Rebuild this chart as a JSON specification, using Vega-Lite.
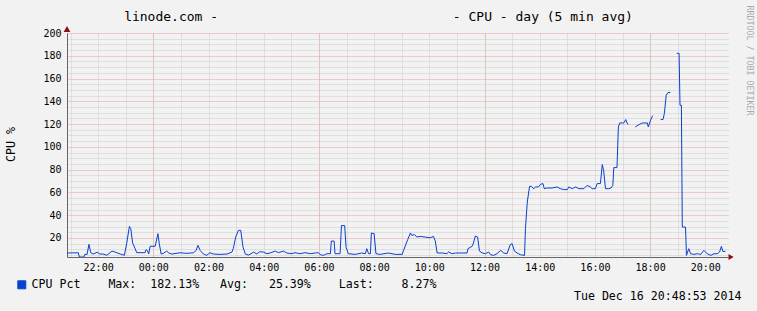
{
  "$schema": "https://vega.github.io/schema/vega-lite/v6.json",
  "width": 661,
  "height": 224,
  "autosize": {"type": "none"},
  "padding": {"left": 67, "top": 33, "right": 29, "bottom": 54},
  "background": "#f2f2f2",
  "config": {"view": {"stroke": null}, "font": "DejaVu Sans Mono"},
  "title": {
    "text": "linode.com -\u00a0\u00a0\u00a0\u00a0\u00a0\u00a0\u00a0\u00a0\u00a0\u00a0\u00a0\u00a0\u00a0\u00a0\u00a0\u00a0\u00a0\u00a0\u00a0\u00a0\u00a0\u00a0\u00a0\u00a0\u00a0\u00a0\u00a0\u00a0\u00a0\u00a0- CPU - day (5 min avg)",
    "font": "DejaVu Sans Mono",
    "fontSize": 13,
    "fontWeight": "normal",
    "color": "#000000",
    "anchor": "middle",
    "frame": "group",
    "dx": -19,
    "dy": 41,
    "baseline": "alphabetic",
    "offset": 12
  },
  "resolve": {"axis": {"x": "independent", "y": "independent"}},
  "layer": [
    {
      "data": {
        "values": [
          {"t": "2014-12-15 20:53", "v": 6.8},
          {"t": "2014-12-15 21:17", "v": 7},
          {"t": "2014-12-15 21:19", "v": 3.3},
          {"t": "2014-12-15 21:29", "v": 3.3},
          {"t": "2014-12-15 21:31", "v": 5.6},
          {"t": "2014-12-15 21:36", "v": 5.6},
          {"t": "2014-12-15 21:40", "v": 14.4},
          {"t": "2014-12-15 21:44", "v": 7},
          {"t": "2014-12-15 21:49", "v": 5.9},
          {"t": "2014-12-15 21:58", "v": 7.5},
          {"t": "2014-12-15 22:04", "v": 5.9},
          {"t": "2014-12-15 22:11", "v": 5.9},
          {"t": "2014-12-15 22:19", "v": 4.8},
          {"t": "2014-12-15 22:30", "v": 8.5},
          {"t": "2014-12-15 22:37", "v": 7.6},
          {"t": "2014-12-15 22:48", "v": 5.9},
          {"t": "2014-12-15 22:57", "v": 4.8},
          {"t": "2014-12-15 23:02", "v": 15},
          {"t": "2014-12-15 23:08", "v": 30.2},
          {"t": "2014-12-15 23:11", "v": 28.2},
          {"t": "2014-12-15 23:15", "v": 15.6},
          {"t": "2014-12-15 23:20", "v": 11},
          {"t": "2014-12-15 23:24", "v": 7.1},
          {"t": "2014-12-15 23:42", "v": 7.1},
          {"t": "2014-12-15 23:44", "v": 9.7},
          {"t": "2014-12-15 23:47", "v": 9},
          {"t": "2014-12-15 23:50", "v": 6},
          {"t": "2014-12-15 23:53", "v": 12.7},
          {"t": "2014-12-16 00:04", "v": 12.7},
          {"t": "2014-12-16 00:10", "v": 23.8},
          {"t": "2014-12-16 00:13", "v": 15},
          {"t": "2014-12-16 00:17", "v": 5.9},
          {"t": "2014-12-16 00:22", "v": 6.5},
          {"t": "2014-12-16 00:29", "v": 8.5},
          {"t": "2014-12-16 00:33", "v": 7},
          {"t": "2014-12-16 00:40", "v": 5.9},
          {"t": "2014-12-16 00:58", "v": 7},
          {"t": "2014-12-16 01:13", "v": 6.5},
          {"t": "2014-12-16 01:27", "v": 7},
          {"t": "2014-12-16 01:33", "v": 9},
          {"t": "2014-12-16 01:37", "v": 13.5},
          {"t": "2014-12-16 01:42", "v": 9},
          {"t": "2014-12-16 01:49", "v": 5.9},
          {"t": "2014-12-16 01:56", "v": 4.8},
          {"t": "2014-12-16 02:03", "v": 7},
          {"t": "2014-12-16 02:11", "v": 5.9},
          {"t": "2014-12-16 02:25", "v": 5.6},
          {"t": "2014-12-16 02:40", "v": 5.9},
          {"t": "2014-12-16 02:51", "v": 7.6},
          {"t": "2014-12-16 02:54", "v": 11},
          {"t": "2014-12-16 02:59", "v": 20.8},
          {"t": "2014-12-16 03:05", "v": 26.7},
          {"t": "2014-12-16 03:10", "v": 26.7},
          {"t": "2014-12-16 03:15", "v": 12},
          {"t": "2014-12-16 03:20", "v": 5.9},
          {"t": "2014-12-16 03:27", "v": 5},
          {"t": "2014-12-16 03:38", "v": 7.6},
          {"t": "2014-12-16 03:45", "v": 5.9},
          {"t": "2014-12-16 03:51", "v": 7.9},
          {"t": "2014-12-16 03:59", "v": 7.7},
          {"t": "2014-12-16 04:07", "v": 6.2},
          {"t": "2014-12-16 04:14", "v": 6.8},
          {"t": "2014-12-16 04:25", "v": 8.5},
          {"t": "2014-12-16 04:32", "v": 7.1},
          {"t": "2014-12-16 04:43", "v": 8.5},
          {"t": "2014-12-16 04:50", "v": 6.8},
          {"t": "2014-12-16 05:01", "v": 6.2},
          {"t": "2014-12-16 05:08", "v": 7.1},
          {"t": "2014-12-16 05:19", "v": 6.2},
          {"t": "2014-12-16 05:30", "v": 7.1},
          {"t": "2014-12-16 05:41", "v": 6.2},
          {"t": "2014-12-16 05:52", "v": 6.8},
          {"t": "2014-12-16 05:59", "v": 7.1},
          {"t": "2014-12-16 06:03", "v": 5.3},
          {"t": "2014-12-16 06:10", "v": 4.7},
          {"t": "2014-12-16 06:17", "v": 6.2},
          {"t": "2014-12-16 06:25", "v": 6.2},
          {"t": "2014-12-16 06:27", "v": 17.3},
          {"t": "2014-12-16 06:33", "v": 17.3},
          {"t": "2014-12-16 06:35", "v": 6.2},
          {"t": "2014-12-16 06:46", "v": 6.2},
          {"t": "2014-12-16 06:49", "v": 30.9},
          {"t": "2014-12-16 06:56", "v": 30.9},
          {"t": "2014-12-16 06:59", "v": 11.9},
          {"t": "2014-12-16 07:04", "v": 6.2},
          {"t": "2014-12-16 07:19", "v": 5.6},
          {"t": "2014-12-16 07:33", "v": 6.8},
          {"t": "2014-12-16 07:41", "v": 6.2},
          {"t": "2014-12-16 07:44", "v": 10.6},
          {"t": "2014-12-16 07:48", "v": 6.2},
          {"t": "2014-12-16 07:52", "v": 6.2},
          {"t": "2014-12-16 07:54", "v": 24.4},
          {"t": "2014-12-16 08:00", "v": 23.8},
          {"t": "2014-12-16 08:04", "v": 6.2},
          {"t": "2014-12-16 08:13", "v": 5.6},
          {"t": "2014-12-16 08:31", "v": 6.8},
          {"t": "2014-12-16 08:46", "v": 5.6},
          {"t": "2014-12-16 09:01", "v": 5.6},
          {"t": "2014-12-16 09:04", "v": 9.1},
          {"t": "2014-12-16 09:13", "v": 18.5},
          {"t": "2014-12-16 09:19", "v": 24.4},
          {"t": "2014-12-16 09:22", "v": 22.3},
          {"t": "2014-12-16 09:28", "v": 22.9},
          {"t": "2014-12-16 09:33", "v": 20.8},
          {"t": "2014-12-16 09:40", "v": 21.4},
          {"t": "2014-12-16 09:51", "v": 20.8},
          {"t": "2014-12-16 10:02", "v": 20.2},
          {"t": "2014-12-16 10:09", "v": 21.4},
          {"t": "2014-12-16 10:13", "v": 17.3},
          {"t": "2014-12-16 10:17", "v": 6.8},
          {"t": "2014-12-16 10:28", "v": 6.8},
          {"t": "2014-12-16 10:38", "v": 6.2},
          {"t": "2014-12-16 10:42", "v": 7.7},
          {"t": "2014-12-16 10:49", "v": 6.2},
          {"t": "2014-12-16 10:57", "v": 6.8},
          {"t": "2014-12-16 11:22", "v": 6.8},
          {"t": "2014-12-16 11:24", "v": 10.6},
          {"t": "2014-12-16 11:33", "v": 12.7},
          {"t": "2014-12-16 11:36", "v": 15.6},
          {"t": "2014-12-16 11:40", "v": 21.7},
          {"t": "2014-12-16 11:45", "v": 20.8},
          {"t": "2014-12-16 11:49", "v": 8.5},
          {"t": "2014-12-16 11:55", "v": 6.8},
          {"t": "2014-12-16 12:02", "v": 6.2},
          {"t": "2014-12-16 12:09", "v": 7.7},
          {"t": "2014-12-16 12:13", "v": 5.3},
          {"t": "2014-12-16 12:20", "v": 4.7},
          {"t": "2014-12-16 12:27", "v": 6.2},
          {"t": "2014-12-16 12:35", "v": 9.1},
          {"t": "2014-12-16 12:42", "v": 6.8},
          {"t": "2014-12-16 12:49", "v": 6.2},
          {"t": "2014-12-16 12:56", "v": 14.2},
          {"t": "2014-12-16 13:00", "v": 15},
          {"t": "2014-12-16 13:05", "v": 8.5},
          {"t": "2014-12-16 13:11", "v": 6.8},
          {"t": "2014-12-16 13:18", "v": 5.3},
          {"t": "2014-12-16 13:27", "v": 4.7},
          {"t": "2014-12-16 13:29", "v": 28.2},
          {"t": "2014-12-16 13:33", "v": 51.6},
          {"t": "2014-12-16 13:38", "v": 65.4},
          {"t": "2014-12-16 13:42", "v": 65.4},
          {"t": "2014-12-16 13:47", "v": 63.3},
          {"t": "2014-12-16 13:51", "v": 64.8},
          {"t": "2014-12-16 13:57", "v": 64.8},
          {"t": "2014-12-16 14:02", "v": 67.1},
          {"t": "2014-12-16 14:07", "v": 67.8},
          {"t": "2014-12-16 14:10", "v": 63.3},
          {"t": "2014-12-16 14:16", "v": 63.9},
          {"t": "2014-12-16 14:27", "v": 63.9},
          {"t": "2014-12-16 14:38", "v": 64.8},
          {"t": "2014-12-16 14:45", "v": 63.3},
          {"t": "2014-12-16 14:52", "v": 62.5},
          {"t": "2014-12-16 15:00", "v": 62.5},
          {"t": "2014-12-16 15:03", "v": 64.8},
          {"t": "2014-12-16 15:11", "v": 63.3},
          {"t": "2014-12-16 15:18", "v": 64.8},
          {"t": "2014-12-16 15:25", "v": 63.3},
          {"t": "2014-12-16 15:36", "v": 63.3},
          {"t": "2014-12-16 15:43", "v": 66.2},
          {"t": "2014-12-16 15:50", "v": 64.8},
          {"t": "2014-12-16 15:54", "v": 63.3},
          {"t": "2014-12-16 16:01", "v": 63.3},
          {"t": "2014-12-16 16:05", "v": 67.8},
          {"t": "2014-12-16 16:12", "v": 67.8},
          {"t": "2014-12-16 16:16", "v": 84.5},
          {"t": "2014-12-16 16:19", "v": 79},
          {"t": "2014-12-16 16:23", "v": 63.3},
          {"t": "2014-12-16 16:30", "v": 63.3},
          {"t": "2014-12-16 16:35", "v": 63.9},
          {"t": "2014-12-16 16:39", "v": 66.2},
          {"t": "2014-12-16 16:41", "v": 81.8},
          {"t": "2014-12-16 16:48", "v": 81.8},
          {"t": "2014-12-16 16:51", "v": 117.5},
          {"t": "2014-12-16 16:54", "v": 121},
          {"t": "2014-12-16 17:03", "v": 121},
          {"t": "2014-12-16 17:07", "v": 124},
          {"t": "2014-12-16 17:10", "v": 121},
          {"t": "2014-12-16 17:12", "v": 119.6},
          {"t": "2014-12-16 17:20", "v": null},
          {"t": "2014-12-16 17:28", "v": 117.5},
          {"t": "2014-12-16 17:36", "v": 119.6},
          {"t": "2014-12-16 17:43", "v": 121},
          {"t": "2014-12-16 17:54", "v": 121},
          {"t": "2014-12-16 17:56", "v": 117.5},
          {"t": "2014-12-16 18:01", "v": 123.4},
          {"t": "2014-12-16 18:05", "v": 127},
          {"t": "2014-12-16 18:06", "v": 127.5},
          {"t": "2014-12-16 18:14", "v": null},
          {"t": "2014-12-16 18:23", "v": 124},
          {"t": "2014-12-16 18:28", "v": 124},
          {"t": "2014-12-16 18:31", "v": 129.3},
          {"t": "2014-12-16 18:35", "v": 145.4},
          {"t": "2014-12-16 18:39", "v": 147.8},
          {"t": "2014-12-16 18:44", "v": 147.8},
          {"t": "2014-12-16 18:51", "v": null},
          {"t": "2014-12-16 18:58", "v": 182.13},
          {"t": "2014-12-16 19:03", "v": 182.13},
          {"t": "2014-12-16 19:05", "v": 136.6},
          {"t": "2014-12-16 19:08", "v": 136.6},
          {"t": "2014-12-16 19:10", "v": 29.6},
          {"t": "2014-12-16 19:17", "v": 29.6},
          {"t": "2014-12-16 19:19", "v": 4.7},
          {"t": "2014-12-16 19:24", "v": 10.6},
          {"t": "2014-12-16 19:28", "v": 6.2},
          {"t": "2014-12-16 19:35", "v": 5.6},
          {"t": "2014-12-16 19:43", "v": 6.2},
          {"t": "2014-12-16 19:50", "v": 5.6},
          {"t": "2014-12-16 19:57", "v": 9.1},
          {"t": "2014-12-16 20:04", "v": 6.2},
          {"t": "2014-12-16 20:12", "v": 4.7},
          {"t": "2014-12-16 20:19", "v": 6.2},
          {"t": "2014-12-16 20:26", "v": 6.2},
          {"t": "2014-12-16 20:31", "v": 7.7},
          {"t": "2014-12-16 20:35", "v": 12.7},
          {"t": "2014-12-16 20:38", "v": 8.2},
          {"t": "2014-12-16 20:44", "v": 8.27}
        ],
        "format": {"parse": {"t": "utc:'%Y-%m-%d %H:%M'"}}
      },
      "mark": {"type": "line", "strokeWidth": 1, "invalid": "break-paths-show-domains", "clip": true},
      "encoding": {
        "x": {
          "field": "t",
          "type": "temporal",
          "scale": {"type": "utc", "domain": [1418676740000, 1418762960000]},
          "axis": {
            "orient": "bottom",
            "values": [1418680800000, 1418688000000, 1418695200000, 1418702400000, 1418709600000, 1418716800000, 1418724000000, 1418731200000, 1418738400000, 1418745600000, 1418752800000, 1418760000000],
            "format": "%H:%M",
            "labelOverlap": false,
            "labelFlush": false,
            "labelBound": false,
            "labelFont": "DejaVu Sans Mono",
            "labelFontSize": 10,
            "labelColor": "#000000",
            "labelPadding": 5,
            "ticks": false,
            "domain": true,
            "domainColor": "#666666",
            "grid": true,
            "gridColor": "#cdcdcd",
            "gridDash": [1, 1],
            "gridOpacity": 1,
            "title": "Tue Dec 16 20:48:53 2014",
            "titleFont": "DejaVu Sans Mono",
            "titleFontSize": 11.6,
            "titleFontWeight": "normal",
            "titleColor": "#000000",
            "titleX": 674,
            "titleY": 42,
            "titleAlign": "right",
            "titleBaseline": "alphabetic"
          }
        },
        "y": {
          "field": "v",
          "type": "quantitative",
          "scale": {"domain": [3.3, 200], "zero": false, "nice": false},
          "axis": {
            "orient": "left",
            "values": [5, 10, 15, 20, 25, 30, 35, 40, 45, 50, 55, 60, 65, 70, 75, 80, 85, 90, 95, 100, 105, 110, 115, 120, 125, 130, 135, 140, 145, 150, 155, 160, 165, 170, 175, 180, 185, 190, 195, 200],
            "labelExpr": "datum.value % 20 === 0 ? datum.label : ''",
            "labelFont": "DejaVu Sans Mono",
            "labelFontSize": 10,
            "labelColor": "#000000",
            "labelPadding": 6,
            "labelOverlap": false,
            "labelFlush": false,
            "labelBound": false,
            "ticks": false,
            "domainColor": "#666666",
            "grid": true,
            "gridColor": {"condition": {"test": "datum.value % 20 === 0", "value": "#e5a3a3"}, "value": "#cdcdcd"},
            "gridDash": [1, 1],
            "gridOpacity": 1,
            "title": "CPU %",
            "titleFont": "DejaVu Sans Mono",
            "titleFontSize": 11.6,
            "titleFontWeight": "normal",
            "titleColor": "#000000",
            "titleAngle": 270,
            "titleX": -56,
            "titleY": 111,
            "titleAlign": "center",
            "titleBaseline": "middle"
          }
        },
        "color": {
          "datum": "CPU Pct",
          "type": "nominal",
          "scale": {"range": ["#0a40d0"]},
          "legend": {
            "orient": "none",
            "legendX": -51,
            "legendY": 246,
            "title": null,
            "padding": 0,
            "symbolType": "square",
            "symbolSize": 64,
            "symbolFillColor": "#0a40d0",
            "symbolStrokeColor": "#000000",
            "symbolStrokeWidth": 1,
            "symbolOpacity": 1,
            "labelFont": "DejaVu Sans Mono",
            "labelFontSize": 11.6,
            "labelColor": "#000000",
            "labelLimit": 0,
            "labelOffset": 4,
            "labelExpr": "'CPU Pct\u00a0\u00a0\u00a0\u00a0Max:\u00a0\u00a0182.13%\u00a0\u00a0\u00a0Avg:\u00a0\u00a0\u00a025.39%\u00a0\u00a0\u00a0\u00a0Last:\u00a0\u00a0\u00a0\u00a08.27%'"
          }
        }
      }
    },
    {
      "data": {"values": [{"a": 1}]},
      "mark": {"type": "point", "shape": "triangle-up", "filled": true, "size": 45, "color": "#8b1010", "opacity": 1, "clip": false},
      "encoding": {
        "x": {
          "datum": 1418676740000,
          "type": "temporal",
          "axis": {
            "orient": "bottom",
            "values": [1418677200000, 1418684400000, 1418691600000, 1418698800000, 1418706000000, 1418713200000, 1418720400000, 1418727600000, 1418734800000, 1418742000000, 1418749200000, 1418756400000],
            "labels": false,
            "ticks": false,
            "domain": false,
            "grid": true,
            "gridColor": "#cdcdcd",
            "gridDash": [1, 1],
            "gridOpacity": 1,
            "title": null
          }
        },
        "y": {
          "datum": 203.5,
          "type": "quantitative",
          "axis": {
            "orient": "right",
            "labels": false,
            "ticks": false,
            "domain": false,
            "grid": false,
            "title": "RRDTOOL / TOBI OETIKER",
            "titleFont": "DejaVu Sans Mono",
            "titleFontSize": 8.3,
            "titleFontWeight": "normal",
            "titleColor": "#aaaaaa",
            "titleAngle": 90,
            "titleX": 20,
            "titleY": 27,
            "titleAlign": "center",
            "titleBaseline": "middle"
          }
        }
      }
    },
    {
      "data": {"values": [{"a": 1}]},
      "mark": {"type": "point", "shape": "triangle-right", "filled": true, "size": 35, "color": "#8b1010", "opacity": 1, "clip": false},
      "encoding": {
        "x": {
          "datum": 1418763360000,
          "type": "temporal",
          "axis": {
            "orient": "bottom",
            "values": [1418688000000, 1418709600000, 1418731200000, 1418752800000],
            "labels": false,
            "ticks": false,
            "domain": false,
            "grid": true,
            "gridColor": "#e5a3a3",
            "gridDash": [1, 1],
            "gridOpacity": 1,
            "title": null
          }
        },
        "y": {"datum": 3.3, "type": "quantitative", "axis": null}
      }
    }
  ]
}
